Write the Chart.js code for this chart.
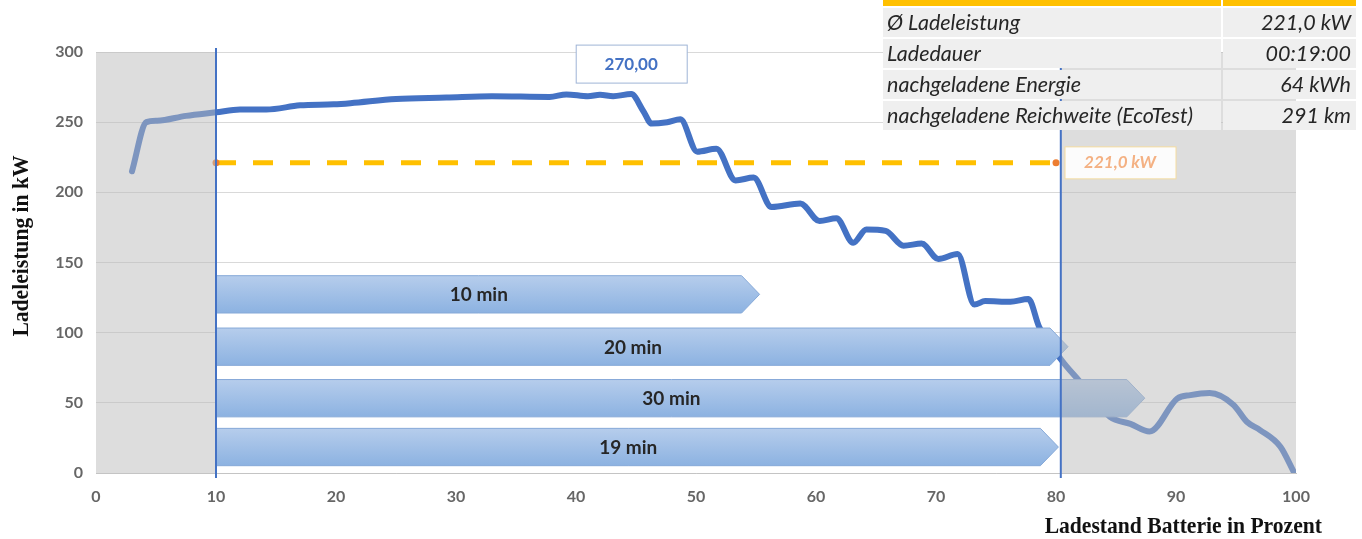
<!DOCTYPE html>
<html lang="de">
<head>
<meta charset="utf-8">
<title>Ladekurve</title>
<script src="https://cdn.jsdelivr.net/npm/chart.js@4.4.1/dist/chart.umd.min.js"></script>
<style>
    html, body { margin: 0; padding: 0; background: #fff; }
    #wrap { position: relative; width: 1362px; height: 539px; overflow: hidden; }
    #ladeChart { position: absolute; left: 0; top: 0; }
    #info {
        position: absolute; left: 881px; top: -25px;
        border-collapse: separate; border-spacing: 2px 2px;
        font-family: Lato, "Open Sans", sans-serif; font-style: italic; font-size: 21.5px; color: #262626;
    }
    #info td { background: #efefef; height: 29px; padding: 0 4px; line-height: 29px; white-space: nowrap; }
    #info td.val { text-align: right; padding-right: 5px; }
    #info tr.head td { background: #ffc000; }
</style>
</head>
<body>
<div id="wrap">
    <canvas id="ladeChart" width="1362" height="539"></canvas>
    <table id="info"></table>
</div>
<script>
// Ladekurve (Ladestand in %, Ladeleistung in kW)
const socValues = [3, 4.2, 5.1, 7.5, 10, 12, 14.2, 17, 19.8, 21.2, 25, 29.2, 33, 37.8, 39.2, 41, 42, 43.1, 44.6,
    45.6, 46.3, 47.6, 48.7, 50.1, 51.7, 53.3, 54.8, 56.3, 58.7, 60.3, 61.7, 63.1, 64.2, 65.8, 67.3, 68.8,
    70.2, 71.8, 73.2, 74.1, 76.2, 77.7, 78.6, 80.5, 81.9, 84.5, 86.2, 87.8, 90.1, 91.2, 92.8, 94.8, 95.9,
    97, 98.7, 99.8];
const powerValues = [215, 250, 251, 254.5, 257, 259, 259, 262, 262.7, 263.5, 266.5, 267.5, 268.5, 268, 269.8, 268.5, 269.5, 268.5, 270,
    258, 249, 250, 252, 229, 231, 208.5, 210.5, 189.5, 192, 179.5, 181.5, 164, 173.5, 172.5, 162, 163.5,
    152.5, 156, 120, 122.5, 122, 124, 104, 80, 66, 40, 35, 29.5, 53, 55.5, 57, 48.5, 36.5,
    30.6, 18.7, 1];

// Durchschnitt im Messfenster 10 - 80 %
const avgStart = 10;
const avgEnd = 80;
const avgPower = 221.0;

// Messfenster (senkrechte Linien) und ausgegraute Bereiche
const windowMarkers = [10, 80.4];
const grayZones = [[0, 10], [80.4, 100]];

// Zeitpfeile: Beschriftung, Ladestand an der Pfeilspitze, Hoehe (kW) der Pfeilmitte
const arrowLabels = ['10 min', '20 min', '30 min', '19 min'];
const arrowTips = [55.3, 81, 87.4, 80.2];
const arrowLevels = [127.3, 90, 53.3, 18.5];
const arrowStart = 10;

// Achsen
const xTicks = [0, 10, 20, 30, 40, 50, 60, 70, 80, 90, 100];
const yTicks = [0, 50, 100, 150, 200, 250, 300];

// Infotabelle
const tableLabels = ['Ø Ladeleistung', 'Ladedauer', 'nachgeladene Energie', 'nachgeladene Reichweite (EcoTest)'];
const tableValues = ['221,0 kW', '00:19:00', '64 kWh', '291 km'];

const table = document.getElementById('info');
table.innerHTML = '<tr class="head"><td style="width:330px"></td><td style="width:125px"></td></tr>' +
    tableLabels.map((l, i) => `<tr><td>${l}</td><td class="val">${tableValues[i]}</td></tr>`).join('');

const BLUE = '#4472C4';
const tickFont = { family: 'Lato', size: 16, weight: 'bold' };

// schmal gesetzte Serifenschrift fuer die Achsentitel
function drawNarrow(ctx, text, x, y, align) {
    ctx.save();
    ctx.translate(x, y);
    ctx.scale(0.9, 1);
    ctx.textAlign = align;
    ctx.fillText(text, 0, 0);
    ctx.restore();
}

const extrasPlugin = {
    id: 'extras',
    afterDatasetsDraw(chart) {
        const { ctx, chartArea: a, scales: { x, y } } = chart;
        ctx.save();

        // Zeitpfeile
        const half = 13.3;
        arrowLabels.forEach((label, i) => {
            const x0 = x.getPixelForValue(arrowStart);
            const xt = x.getPixelForValue(arrowTips[i]);
            const xb = xt - 18;
            const yt = y.getPixelForValue(arrowLevels[i] + half);
            const yb = y.getPixelForValue(arrowLevels[i] - half);
            const ym = (yt + yb) / 2;
            const grad = ctx.createLinearGradient(0, yt, 0, yb);
            grad.addColorStop(0, '#b6cdec');
            grad.addColorStop(1, '#8cb2e1');
            ctx.beginPath();
            ctx.moveTo(x0, yt);
            ctx.lineTo(xb, yt);
            ctx.lineTo(xt, ym);
            ctx.lineTo(xb, yb);
            ctx.lineTo(x0, yb);
            ctx.closePath();
            ctx.fillStyle = grad;
            ctx.fill();
            ctx.strokeStyle = '#86a9d8';
            ctx.lineWidth = 1;
            ctx.stroke();
            ctx.fillStyle = '#262626';
            ctx.font = 'bold 19px Lato';
            ctx.textAlign = 'center';
            ctx.textBaseline = 'middle';
            ctx.fillText(label, (x0 + xb) / 2, ym + 1);
        });

        // ausgegraute Bereiche
        ctx.fillStyle = 'rgba(185,185,185,0.49)';
        grayZones.forEach(([from, to]) => {
            const l = x.getPixelForValue(from);
            const r = x.getPixelForValue(to);
            ctx.fillRect(l, a.top, r - l, a.bottom - a.top);
        });

        // Messfenster
        ctx.strokeStyle = BLUE;
        ctx.lineWidth = 2;
        windowMarkers.forEach(v => {
            const px = x.getPixelForValue(v);
            ctx.beginPath();
            ctx.moveTo(px, a.top - 4);
            ctx.lineTo(px, a.bottom + 5);
            ctx.stroke();
        });

        // Maximalwert
        let iMax = 0;
        powerValues.forEach((v, i) => { if (v > powerValues[iMax]) iMax = i; });
        const px = x.getPixelForValue(socValues[iMax]);
        const py = y.getPixelForValue(powerValues[iMax]);
        ctx.fillStyle = '#fff';
        ctx.strokeStyle = '#9fb4d6';
        ctx.lineWidth = 1;
        ctx.fillRect(px - 55, py - 49, 111, 38);
        ctx.strokeRect(px - 55, py - 49, 111, 38);
        ctx.fillStyle = BLUE;
        ctx.font = 'bold 17px Lato';
        ctx.textAlign = 'center';
        ctx.textBaseline = 'middle';
        ctx.fillText(powerValues[iMax].toFixed(2).replace('.', ','), px, py - 30);

        // Durchschnittswert
        const ax = x.getPixelForValue(avgEnd) + 9;
        const ay = y.getPixelForValue(avgPower);
        ctx.fillStyle = 'rgba(255,255,255,0.93)';
        ctx.strokeStyle = '#f5dc9f';
        ctx.fillRect(ax, ay - 16, 111, 32);
        ctx.strokeRect(ax, ay - 16, 111, 32);
        ctx.fillStyle = '#f4b183';
        ctx.font = 'italic bold 17px Lato';
        ctx.fillText(avgPower.toFixed(1).replace('.', ',') + ' kW', ax + 55, ay);
        ctx.restore();
    },
    afterDraw(chart) {
        const { ctx } = chart;
        ctx.save();
        ctx.fillStyle = '#111';
        ctx.font = 'bold 24px "Liberation Serif"';
        ctx.textBaseline = 'middle';
        drawNarrow(ctx, 'Ladestand Batterie in Prozent', 1322, 527, 'right');
        ctx.translate(22, 246);
        ctx.rotate(-Math.PI / 2);
        drawNarrow(ctx, 'Ladeleistung in kW', 0, 0, 'center');
        ctx.restore();
    }
};

new Chart(document.getElementById('ladeChart'), {
    type: 'scatter',
    data: {
        datasets: [{
            label: 'Ladeleistung',
            data: socValues.map((s, i) => ({ x: s, y: powerValues[i] })),
            showLine: true,
            borderColor: BLUE,
            borderWidth: 6,
            borderCapStyle: 'round',
            borderJoinStyle: 'round',
            cubicInterpolationMode: 'monotone',
            pointRadius: 0
        }, {
            label: 'Ø Ladeleistung',
            data: [{ x: avgStart, y: avgPower }, { x: avgEnd, y: avgPower }],
            showLine: true,
            borderColor: '#FFC000',
            borderWidth: 5,
            borderDash: [20, 17],
            pointRadius: 3.5,
            pointBorderWidth: 0,
            pointBackgroundColor: '#ED7D31'
        }]
    },
    options: {
        responsive: false,
        animation: false,
        layout: { padding: { left: 0, right: 66, top: 52, bottom: 0 } },
        plugins: { legend: { display: false }, tooltip: { enabled: false } },
        scales: {
            x: {
                type: 'linear',
                min: 0,
                max: 100,
                afterBuildTicks: s => { s.ticks = xTicks.map(v => ({ value: v })); },
                afterFit: s => { s.height = 66; },
                grid: { display: false, drawTicks: false },
                border: { display: true, color: '#c4c4c4', width: 1 },
                ticks: { font: tickFont, color: '#666666', padding: 14 }
            },
            y: {
                min: 0,
                max: 300,
                afterBuildTicks: s => { s.ticks = yTicks.map(v => ({ value: v })); },
                afterFit: s => { s.width = 96; },
                grid: { color: '#d9d9d9', drawTicks: false },
                border: { display: false },
                ticks: { font: tickFont, color: '#666666', padding: 13 }
            }
        }
    },
    plugins: [extrasPlugin]
});
</script>
</body>
</html>
